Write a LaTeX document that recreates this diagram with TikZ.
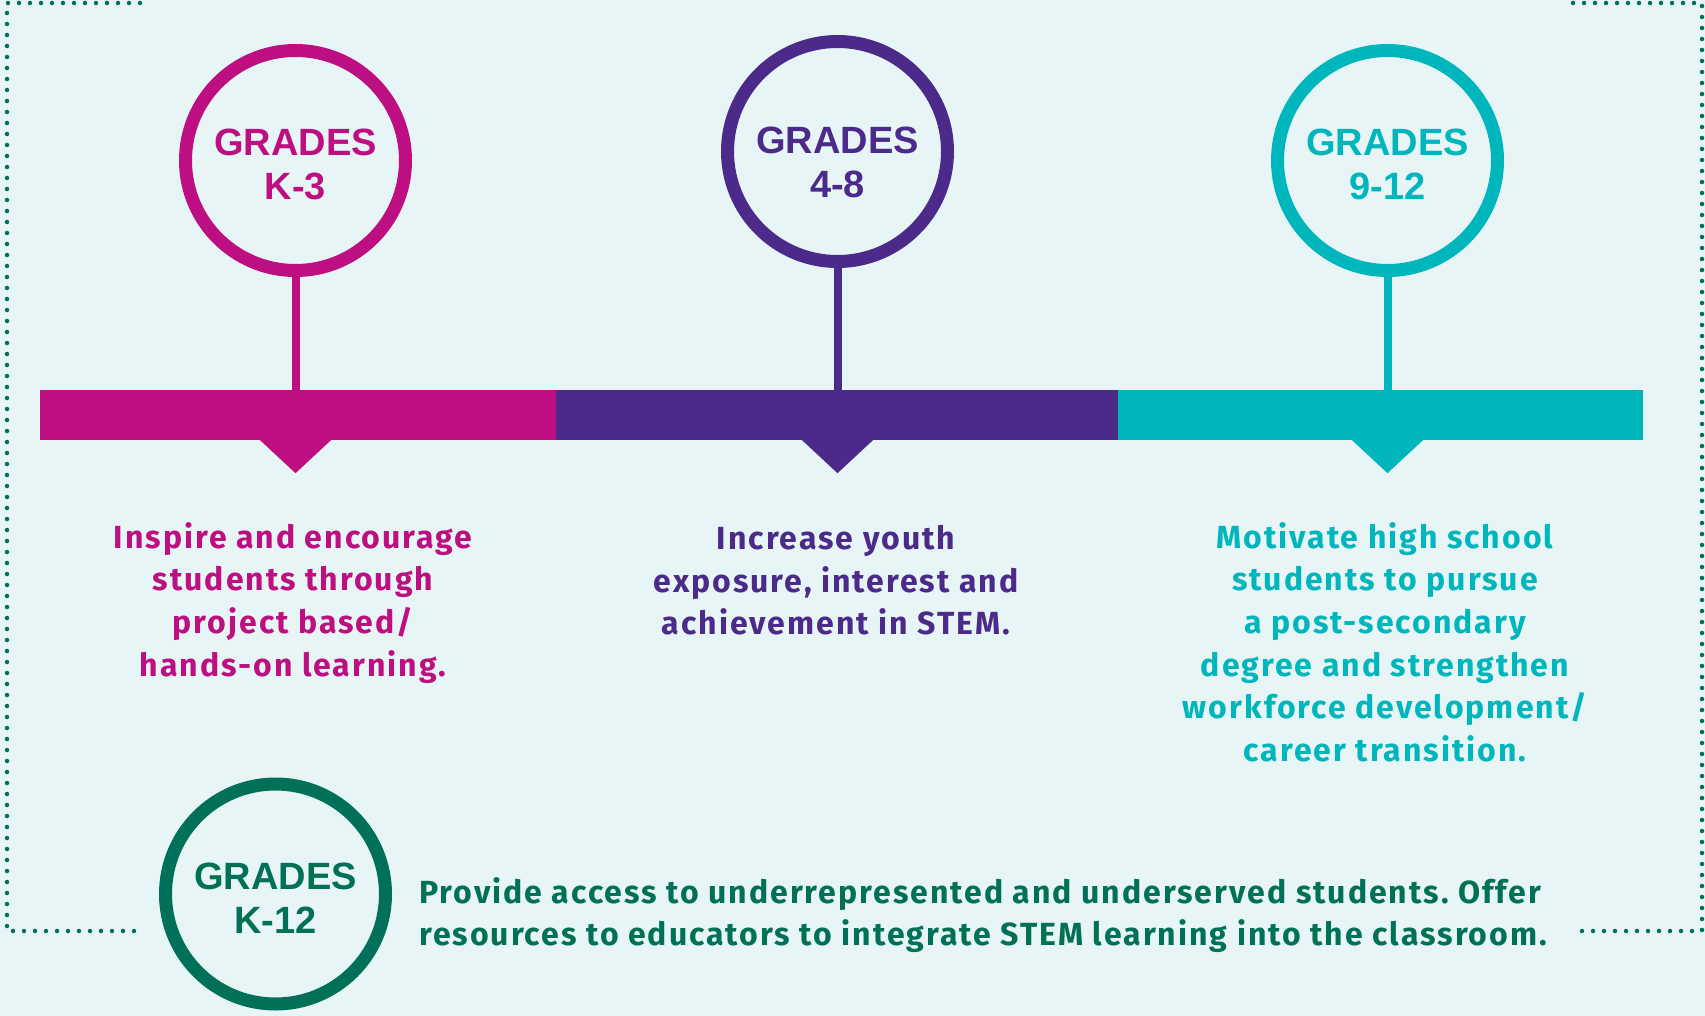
\documentclass[tikz,border=0pt]{standalone}
\usepackage{fontspec}
\setmainfont{Fira Sans}[LetterSpace=6.2]
\newfontfamily\gradefont{Liberation Sans}
\usetikzlibrary{positioning}
\frenchspacing

\definecolor{bgc}{HTML}{E7F5F6}
\definecolor{magentac}{HTML}{BD0F81}
\definecolor{purplec}{HTML}{4C2A89}
\definecolor{cyanc}{HTML}{00B6BD}
\definecolor{greenc}{HTML}{007058}

\begin{document}
\begin{tikzpicture}[x=1pt, y=-1pt,
    ring/.style={circle, draw=#1, line width=13pt, fill=bgc, minimum size=220pt, inner sep=0pt},
    ringtext/.style={text=#1, align=center, inner sep=0pt, font=\gradefont\bfseries\fontsize{38}{44}\selectfont},
    bar/.style={fill=#1, inner sep=0pt, minimum height=50pt},
    stem/.style={draw=#1, line width=8pt},
    goal/.style={text=#1, align=center, anchor=north, inner sep=0pt, font=\bfseries\fontsize{32}{42.7}\selectfont},
    border/.style={draw=greenc, line width=4.5pt, line cap=round, dash pattern=on 0pt off 11pt}]
    \fill[bgc] (0,0) rectangle (1705,1016);
    \useasboundingbox (0,0) rectangle (1705,1016);

    % dotted frame
    \draw[border] (140,3) -- (7,3) -- (7,931) -- (139,931);
    \draw[border] (1573,3) -- (1702,3) -- (1702,931) -- (1573,931);

    % time line
    \node[bar=magentac, minimum width=516pt] (bar1) at (298,415) {};
    \node[bar=purplec, minimum width=562pt] (bar2) at (837,415) {};
    \node[bar=cyanc, minimum width=525pt] (bar3) at (1380.5,415) {};

    \node[ring=magentac] (k3) at (295.5,160.5) {};
    \node[ring=purplec] (g48) at (837.5,151.5) {};
    \node[ring=cyanc] (g912) at (1387.5,160.5) {};

    \draw[stem=magentac] (k3.south) -- (k3.south |- bar1.north);
    \draw[stem=purplec] (g48.south) -- (g48.south |- bar2.north);
    \draw[stem=cyanc] (g912.south) -- (g912.south |- bar3.north);

    \fill[magentac] (k3 |- bar1.south) ++(-36.5,-1) -- ++(36.5,34) -- ++(36.5,-34) -- cycle;
    \fill[purplec] (g48 |- bar2.south) ++(-36.5,-1) -- ++(36.5,34) -- ++(36.5,-34) -- cycle;
    \fill[cyanc] (g912 |- bar3.south) ++(-36.5,-1) -- ++(36.5,34) -- ++(36.5,-34) -- cycle;

    \node[ringtext=magentac] (k3t) at (295.5,164) {GRADES\\K-3};
    \node[ringtext=purplec] (g48t) at (837.5,162) {GRADES\\4-8};
    \node[ringtext=cyanc] (g912t) at (1387.5,164.5) {GRADES\\9-12};

    \node[goal=magentac] (k3goal) at (293,522) {Inspire and encourage\\students through\\project based/\\hands-on learning.};
    \node[goal=purplec] (g48goal) at (836,525) {Increase youth\\exposure, interest and\\achievement in STEM.};
    \node[goal=cyanc] (g912goal) at (1385,522) {Motivate high school\\students to pursue\\a post-secondary\\degree and strengthen\\workforce development/\\career transition.};

    % all grades
    \node[ring=greenc] (k12) at (275.5,894) {};
    \node[ringtext=greenc] (k12t) at (275.5,898) {GRADES\\K-12};
    \node[goal=greenc, align=left, anchor=north west] (k12goal) at (419,877) {Provide access to underrepresented and underserved students. Offer\\resources to educators to integrate STEM learning into the classroom.};
\end{tikzpicture}
\end{document}
